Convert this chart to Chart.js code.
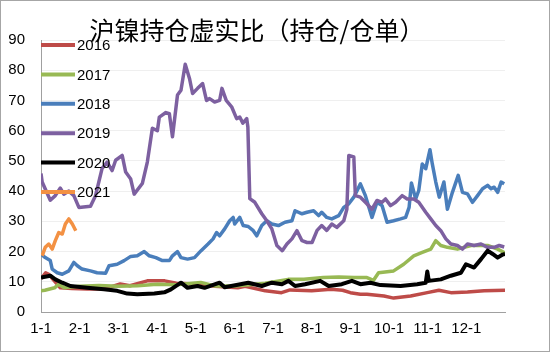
<!DOCTYPE html>
<html>
<head>
<meta charset="utf-8">
<script src="https://cdn.jsdelivr.net/npm/chart.js@4/dist/chart.umd.min.js"></script>
<style>
  body { margin: 0; background: #fff; }
</style>
</head>
<body>
<canvas id="ratioChart" width="550" height="352"></canvas>
<script>
// x = months since 1-1 (0..12), y = 持仓/仓单
var monthLabels = ['1-1', '2-1', '3-1', '4-1', '5-1', '6-1', '7-1', '8-1', '9-1', '10-1', '11-1', '12-1'];
var yearNames = ['2016', '2017', '2018', '2019', '2020', '2021'];

var s2016 = [[0, 11], [0.12, 13], [0.2, 12.5], [0.3, 11], [0.5, 8], [0.8, 7.8], [1.2, 7.6], [1.64, 7.6], [2.05, 9.3], [2.3, 8.7],
    [2.75, 10.3], [3.2, 10.3], [3.5, 9.5], [4.0, 9.3], [4.5, 8.5], [5.09, 8], [5.28, 8.5], [5.8, 7], [6.22, 6.4], [6.44, 7.3],
    [7.0, 7], [7.5, 7.5], [7.8, 7.2], [8.0, 6.4], [8.26, 5.9], [8.43, 5.9], [8.87, 5.3], [9.12, 4.6], [9.56, 5.3], [9.99, 6.4],
    [10.29, 7.2], [10.6, 6.4], [11.03, 6.6], [11.46, 7], [12.0, 7.2]];
var s2017 = [[0, 7], [0.1, 7.2], [0.35, 8], [0.46, 9.2], [0.6, 8], [1.0, 8.5], [1.5, 8.8], [2.0, 8.5], [2.5, 8.7], [3.0, 9.2],
    [3.5, 9], [4.13, 9.8], [4.5, 8.6], [5.0, 8.6], [5.4, 9], [5.8, 9.5], [6.39, 10.8], [6.8, 10.8], [7.3, 11.4], [7.7, 11.6],
    [8.1, 11.4], [8.43, 11.4], [8.6, 10.5], [8.73, 13], [9.12, 13.6], [9.38, 15.8], [9.64, 18.6], [9.86, 19.7], [10.08, 20.8],
    [10.21, 23.6], [10.34, 22], [10.51, 21.4], [10.77, 20.8], [11.12, 22], [11.55, 22], [11.81, 20.8], [12, 19.5]];
var s2018 = [[0, 19.2], [0.11, 18], [0.24, 17], [0.29, 14.2], [0.42, 13], [0.55, 12.5], [0.72, 13.6], [0.85, 16.4], [0.94, 15.3],
    [1.06, 14.2], [1.28, 13.6], [1.45, 13], [1.67, 12.8], [1.76, 15.3], [1.97, 15.8], [2.15, 17], [2.32, 18.4], [2.49, 18.6],
    [2.67, 20], [2.8, 18.6], [2.97, 18], [3.14, 17], [3.32, 17], [3.4, 18.6], [3.53, 20], [3.62, 18], [3.79, 17.5], [3.97, 18],
    [4.14, 20.3], [4.32, 22.5], [4.45, 24.2], [4.54, 26.3], [4.62, 25.2], [4.75, 27.5], [4.88, 30.2], [4.97, 31.3], [5.01, 29.1],
    [5.14, 31.3], [5.23, 28.6], [5.36, 28.3], [5.49, 26.9], [5.58, 25.2], [5.71, 28.6], [5.84, 30.2], [5.97, 29.1], [6.14, 28.6],
    [6.31, 29.7], [6.49, 30.2], [6.57, 33.5], [6.75, 32.5], [6.88, 33], [7.05, 33.5], [7.18, 31.9], [7.26, 33], [7.39, 31.3],
    [7.52, 30.8], [7.7, 31.9], [7.83, 34.6], [7.96, 35.8], [8.09, 38], [8.26, 42.4], [8.39, 38.5], [8.56, 31.3], [8.69, 36.3],
    [8.82, 35.2], [8.95, 29.7], [9.12, 30.2], [9.3, 30.8], [9.43, 31.3], [9.52, 34.6], [9.58, 42.7], [9.69, 37.4], [9.77, 40.2],
    [9.86, 49], [9.95, 47.4], [10.06, 53.7], [10.12, 49], [10.21, 43], [10.3, 38], [10.42, 43], [10.51, 34], [10.64, 39.6],
    [10.79, 45.2], [10.9, 39.6], [11.03, 39.1], [11.16, 36.3], [11.29, 38.5], [11.42, 40.8], [11.55, 41.9], [11.64, 40.8],
    [11.72, 41.3], [11.81, 39.6], [11.9, 43], [11.98, 42.4]];
var s2019 = [[0, 45.8], [0.03, 43], [0.24, 37], [0.37, 38.5], [0.5, 41], [0.59, 39], [0.72, 40], [0.85, 38.5], [0.98, 34.6],
    [1.28, 35], [1.41, 38.5], [1.58, 47.5], [1.71, 49.6], [1.84, 46.8], [1.93, 50.2], [2.1, 51.8], [2.19, 46.3], [2.32, 44],
    [2.41, 39], [2.62, 42.5], [2.75, 49.6], [2.88, 60.8], [3.01, 60], [3.06, 64.5], [3.23, 66], [3.32, 65.6], [3.4, 58],
    [3.53, 71.8], [3.62, 73.4], [3.73, 82], [3.84, 77.3], [3.92, 72.3], [4.05, 74], [4.18, 75.6], [4.28, 70], [4.36, 70.6],
    [4.49, 69.5], [4.62, 70], [4.68, 74], [4.79, 70], [4.93, 67.9], [5.06, 64], [5.14, 64.5], [5.22, 62.5], [5.32, 64],
    [5.35, 61.2], [5.4, 37.5], [5.53, 36.3], [5.71, 32.5], [5.84, 30.2], [5.97, 27.5], [6.1, 22], [6.24, 20.3], [6.36, 22.5],
    [6.49, 24.2], [6.62, 26.9], [6.75, 23.6], [6.88, 23], [7.01, 23], [7.14, 27], [7.26, 28.6], [7.39, 27], [7.52, 29.1],
    [7.65, 28], [7.83, 30.2], [7.91, 34], [7.96, 51.8], [8.09, 51.3], [8.13, 38.5], [8.26, 38], [8.39, 36.3], [8.56, 34],
    [8.69, 36.9], [8.82, 36.3], [8.91, 37.4], [9.04, 35.2], [9.17, 36.3], [9.34, 38.5], [9.47, 37.4], [9.64, 37.4], [9.77, 36.3],
    [9.95, 33], [10.08, 30.8], [10.21, 28.6], [10.34, 26.9], [10.47, 24.2], [10.6, 22.5], [10.77, 22], [10.9, 20.8],
    [11.03, 22.5], [11.2, 22], [11.38, 22.5], [11.55, 21.4], [11.72, 21.4], [11.85, 22], [11.98, 21.5]];
var s2020 = [[0, 11.4], [0.24, 12], [0.37, 10.8], [0.55, 9.7], [0.76, 8.6], [1.19, 8], [1.63, 7.5], [1.97, 7], [2.23, 6.1],
    [2.49, 5.9], [2.93, 6.1], [3.19, 6.5], [3.36, 7.5], [3.62, 9.7], [3.79, 8], [4.05, 8.6], [4.23, 8], [4.62, 9.7], [4.75, 8.2],
    [5.36, 9.7], [5.71, 8.6], [5.97, 9.7], [6.23, 9.2], [6.4, 10.3], [6.57, 8.6], [6.83, 9.2], [7.22, 10.3], [7.44, 8.6],
    [7.78, 9.2], [8.04, 10.3], [8.26, 9.2], [8.52, 9.7], [8.78, 8.9], [9.3, 8.6], [9.73, 9.2], [9.95, 9.7], [9.99, 13.4],
    [10.03, 10.3], [10.34, 10.8], [10.6, 12], [10.86, 13], [10.99, 15.8], [11.2, 14.7], [11.38, 17.5], [11.55, 20.3],
    [11.68, 19.2], [11.81, 18], [11.94, 19], [12, 19.2]];
var s2021 = [[0.03, 18.6], [0.11, 21.4], [0.2, 22.5], [0.29, 20.8], [0.37, 23.6], [0.46, 26.3], [0.55, 25.8], [0.63, 29.1],
    [0.72, 30.8], [0.81, 29.1], [0.9, 26.9]];

var seriesData = [s2016, s2017, s2018, s2019, s2020, s2021];
var lineColors = ['#be4b48', '#98b954', '#4a7ebb', '#7d60a0', '#000000', '#f39143'];

var datasets = seriesData.map(function (s, i) {
    return {
        label: yearNames[i],
        data: s.map(function (p) { return {x: p[0], y: p[1]}; }),
        borderColor: lineColors[i],
        backgroundColor: lineColors[i],
        borderWidth: i === 4 ? 4 : 3.5,
        borderJoinStyle: 'round',
        pointRadius: 0,
        tension: 0,
        order: 5 - i // later years on top, like excel
    };
});

var FONT = '"Liberation Sans", Arial, sans-serif';

// legend sits inside the plot, top-left, drawn over the lines
var insideLegend = {
    id: 'insideLegend',
    afterDatasetsDraw: function (chart) {
        var ctx = chart.ctx, area = chart.chartArea;
        ctx.save();
        ctx.font = '15px ' + FONT;
        ctx.textBaseline = 'middle';
        chart.data.datasets.forEach(function (ds, i) {
            var y = area.top + 5 + i * 29.4;
            ctx.strokeStyle = ds.borderColor;
            ctx.lineWidth = 4;
            ctx.beginPath();
            ctx.moveTo(area.left, y);
            ctx.lineTo(area.left + 34, y);
            ctx.stroke();
            ctx.fillStyle = '#000';
            ctx.fillText(ds.label, area.left + 36, y + 1);
        });
        ctx.restore();
    }
};

var frame = {
    id: 'frame',
    afterDraw: function (chart) {
        var ctx = chart.ctx;
        ctx.save();
        ctx.strokeStyle = '#a6a6a6';
        ctx.lineWidth = 1;
        ctx.strokeRect(0.5, 0.5, chart.width - 1, chart.height - 1);
        ctx.restore();
    }
};

var config = {
    type: 'line',
    data: { datasets: datasets },
    options: {
        responsive: false,
        animation: false,
        layout: { padding: { left: 9, right: 45, top: 0, bottom: 6 } },
        plugins: {
            legend: { display: false },
            tooltip: { enabled: false },
            title: {
                display: true,
                text: '沪镍持仓虚实比（持仓/仓单）',
                color: '#000',
                font: { family: '"Noto Sans CJK SC", sans-serif', size: 25, weight: 'normal' },
                padding: { top: 15, bottom: -5 }
            }
        },
        scales: {
            x: {
                type: 'linear',
                min: 0,
                max: 12,
                afterBuildTicks: function (scale) {
                    scale.ticks = monthLabels.map(function (_, i) { return {value: i}; });
                },
                ticks: {
                    autoSkip: false,
                    maxRotation: 0,
                    padding: 8,
                    color: '#000',
                    font: { family: FONT, size: 15 },
                    callback: function (v) { return monthLabels[v]; }
                },
                grid: { display: false, drawTicks: false },
                border: { display: true, color: '#a0a0a0', width: 1 }
            },
            y: {
                min: 0,
                max: 90,
                afterFit: function (scale) { scale.width = 32; },
                ticks: {
                    stepSize: 10,
                    padding: 16,
                    color: '#000',
                    font: { family: FONT, size: 15 }
                },
                grid: { color: '#efefef', drawTicks: false },
                border: { display: true, color: '#a0a0a0', width: 1 }
            }
        }
    },
    plugins: [insideLegend, frame]
};

var ctx = document.getElementById('ratioChart');
window.ratioChart = new Chart(ctx, config);
</script>
</body>
</html>
